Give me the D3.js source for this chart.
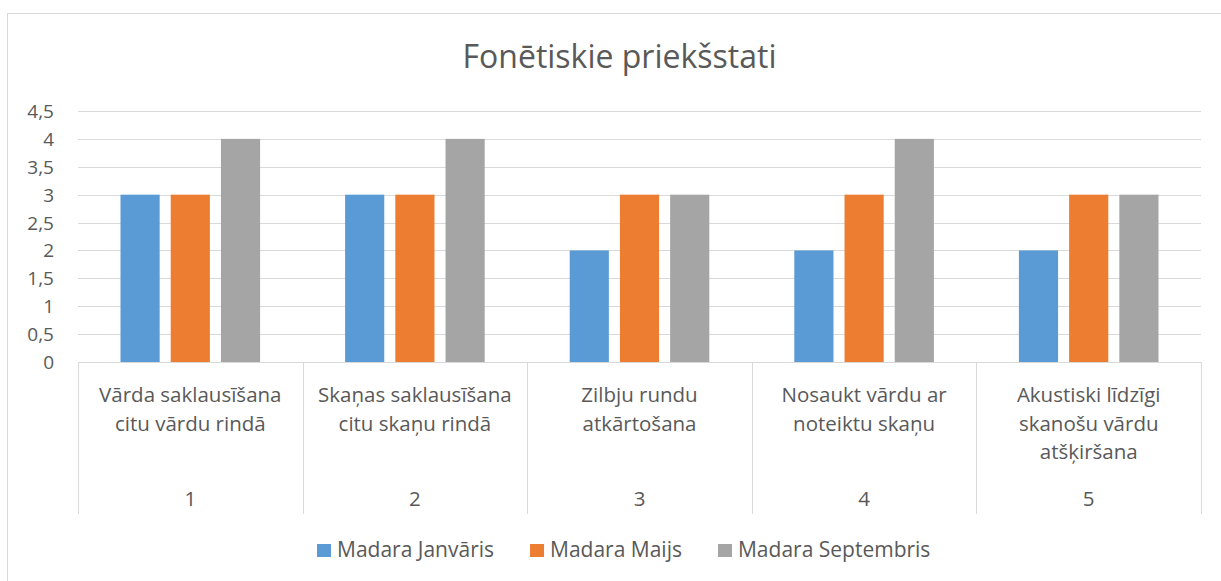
<!DOCTYPE html>
<html>
<head>
<meta charset="utf-8">
<script src="https://cdn.jsdelivr.net/npm/d3@7"></script>
<style>
  body { margin: 0; background: #fff; overflow: hidden; }
  text { font-family: "Open Sans", "Noto Sans", sans-serif; fill: #595959; }
</style>
</head>
<body>
<div id="chart"></div>
<script>
const categories = [
  "Vārda saklausīšana\ncitu vārdu rindā",
  "Skaņas saklausīšana\ncitu skaņu rindā",
  "Zilbju rundu\natkārtošana",
  "Nosaukt vārdu ar\nnoteiktu skaņu",
  "Akustiski līdzīgi\nskanošu vārdu\natšķiršana"
];
const groupNumbers = ["1", "2", "3", "4", "5"];
const seriesNames = ["Madara Janvāris", "Madara Maijs", "Madara Septembris"];
const janvaris = [3, 3, 2, 2, 2];
const maijs = [3, 3, 3, 3, 3];
const septembris = [4, 4, 3, 4, 3];
const yTicks = [0, 0.5, 1, 1.5, 2, 2.5, 3, 3.5, 4, 4.5];
const colors = ["#5B9BD5", "#ED7D31", "#A5A5A5"];

const series = [janvaris, maijs, septembris];
const W = 1221, H = 581;
const plot = { left: 78, right: 1201, top: 111, bottom: 362 };

const svg = d3.select("#chart").append("svg")
  .attr("width", W).attr("height", H);

// chart border (right and bottom edges fall outside the picture)
svg.append("rect")
  .attr("x", 7.5).attr("y", 13.5)
  .attr("width", 1220).attr("height", 600)
  .attr("fill", "none").attr("stroke", "#D9D9D9");

svg.append("text")
  .attr("x", (plot.left + plot.right) / 2 - 20)
  .attr("y", 68)
  .attr("text-anchor", "middle")
  .style("font-size", "32px")
  .text("Fonētiskie priekšstati");

const x0 = d3.scaleBand().domain(d3.range(categories.length))
  .range([plot.left, plot.right]).paddingInner(0).paddingOuter(0);
const x1 = d3.scaleBand().domain(d3.range(series.length))
  .range([42.5, x0.bandwidth() - 42.5]).paddingInner(0.22);
const y = d3.scaleLinear().domain([0, 4.5]).range([plot.bottom, plot.top]);

// Grid lines
svg.append("g").selectAll("line")
  .data(yTicks.filter(d => d > 0))
  .join("line")
  .attr("x1", plot.left).attr("x2", plot.right)
  .attr("y1", d => Math.round(y(d)) + 0.5).attr("y2", d => Math.round(y(d)) + 0.5)
  .attr("stroke", "#D9D9D9");

// Y labels
const fmt = d => String(d).replace(".", ",");
svg.append("g").selectAll("text")
  .data(yTicks)
  .join("text")
  .attr("x", 54)
  .attr("y", d => y(d) + 7)
  .attr("text-anchor", "end")
  .style("font-size", "19px")
  .text(fmt);

// Bars
series.forEach((vals, s) => {
  svg.append("g").selectAll("rect")
    .data(vals)
    .join("rect")
    .attr("x", (d, i) => x0(i) + x1(s))
    .attr("width", x1.bandwidth())
    .attr("y", d => y(d))
    .attr("height", d => y(0) - y(d))
    .attr("fill", colors[s]);
});

// Category axis (multi-level)
const axis = svg.append("g");
axis.append("line")
  .attr("x1", plot.left).attr("x2", plot.right)
  .attr("y1", plot.bottom + 0.5).attr("y2", plot.bottom + 0.5)
  .attr("stroke", "#D9D9D9");
d3.range(categories.length + 1).forEach(i => {
  const xx = Math.round(i < categories.length ? x0(i) : plot.right) + 0.5;
  axis.append("line")
    .attr("x1", xx).attr("x2", xx)
    .attr("y1", plot.bottom).attr("y2", 514)
    .attr("stroke", "#D9D9D9");
});
categories.forEach((c, i) => {
  const cx = x0(i) + x0.bandwidth() / 2;
  const t = axis.append("text")
    .attr("text-anchor", "middle")
    .style("font-size", "20.5px");
  c.split("\n").forEach((line, k) => {
    t.append("tspan").attr("x", cx).attr("y", 402 + k * 28.5).text(line);
  });
  axis.append("text")
    .attr("x", cx).attr("y", 506)
    .attr("text-anchor", "middle")
    .style("font-size", "20.5px")
    .text(groupNumbers[i]);
});

// Legend
const legend = svg.append("g");
let lx = 317;
seriesNames.forEach((name, s) => {
  legend.append("rect")
    .attr("x", lx).attr("y", 544)
    .attr("width", 14).attr("height", 13)
    .attr("fill", colors[s]);
  const t = legend.append("text")
    .attr("x", lx + 20).attr("y", 557)
    .style("font-size", "21px")
    .text(name);
  lx += 20 + t.node().getComputedTextLength() + 36;
});
</script>
</body>
</html>
